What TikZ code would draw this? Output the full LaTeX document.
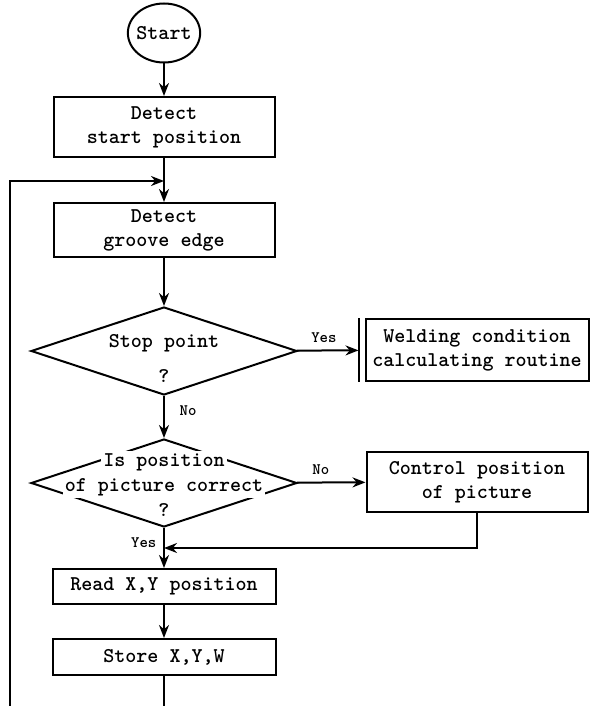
\documentclass[tikz,border=0pt]{standalone}
\usetikzlibrary{arrows.meta, shapes.geometric, calc}
\tikzset{
    >={Stealth[length=6.5pt, width=5pt]},
    flow/.style={line width=1pt},
    txt/.style={font=\ttfamily\bfseries\fontsize{10.5}{12}\selectfont, align=center},
    process/.style={txt, draw, line width=1pt, inner sep=0pt},
    terminal/.style={process, ellipse, inner xsep=-1pt},
    decision/.style={draw, line width=1pt, diamond, inner sep=0pt, minimum width=133pt, minimum height=44pt},
    dtext/.style={txt, fill=white, inner sep=1pt},
    answer/.style={font=\ttfamily\bfseries\footnotesize},
}
\begin{document}
\begin{tikzpicture}[x=0.5pt, y=-0.5pt]
            \useasboundingbox (0,0) rectangle (589,706);
            \node[terminal, minimum width=36pt, minimum height=29.5pt] (start) at (164,33) {Start};
            \node[process, minimum width=110.5pt, minimum height=30pt] (det_start) at (164,127) {Detect\\start position};
            \node[process, minimum width=110.5pt, minimum height=27pt] (det_edge) at (164,230) {Detect\\groove edge};
            \node[decision] (stop_pt) at (164,351) {};
            \node[process, minimum width=111.5pt, minimum height=31pt] (weld) at (477,350) {Welding condition\\calculating routine};
            \node[decision] (pos_ok) at (164,483) {};
            \node[process, minimum width=110.5pt, minimum height=30pt] (ctrl_pos) at (477,482) {Control position\\of picture};
            \node[process, minimum width=111.5pt, minimum height=17.5pt] (read_xy) at (164,586.5) {Read X,Y position};
            \node[process, minimum width=111.5pt, minimum height=18pt] (store_xyw) at (164,657) {Store X,Y,W};
            % texts of the two decisions
            \foreach \t/\y in {Stop point/343, ?/376}
                \node[dtext] (stop_txt\y) at (164,\y) {\t};
            \foreach \t/\y in {Is position/462, of picture correct/487, ?/510}
                \node[dtext] (pos_txt\y) at (164,\y) {\t};
            \coordinate (join) at (164,181);
            \coordinate (ret) at (164,548);
            \coordinate (sbot) at (164,706);
            \coordinate (lbot) at (10,706);
            \foreach \a/\b in {start/det_start, det_start/det_edge, det_edge/stop_pt, read_xy/store_xyw}
                \draw[->, flow] (\a) -- (\b);
            \draw[->, flow, shorten >=3pt] (stop_pt) -- node[answer, above, pos=0.4] {Yes} (weld);
            \draw[flow] ($(weld.north west)+(-6,0)$) -- ($(weld.south west)+(-6,0)$);
            \draw[->, flow] (stop_pt) -- node[answer, right=4pt, pos=0.35] {No} (pos_ok);
            \draw[->, flow] (pos_ok) -- node[answer, above, pos=0.35] {No} (ctrl_pos);
            \draw[->, flow] (pos_ok) -- node[answer, left, pos=0.36] {Yes} (read_xy);
            \draw[->, flow] (ctrl_pos.south) |- (ret);
            \draw[flow] (store_xyw) -- (sbot);
            \draw[->, flow] (lbot) |- (join);
        \end{tikzpicture}
\end{document}
